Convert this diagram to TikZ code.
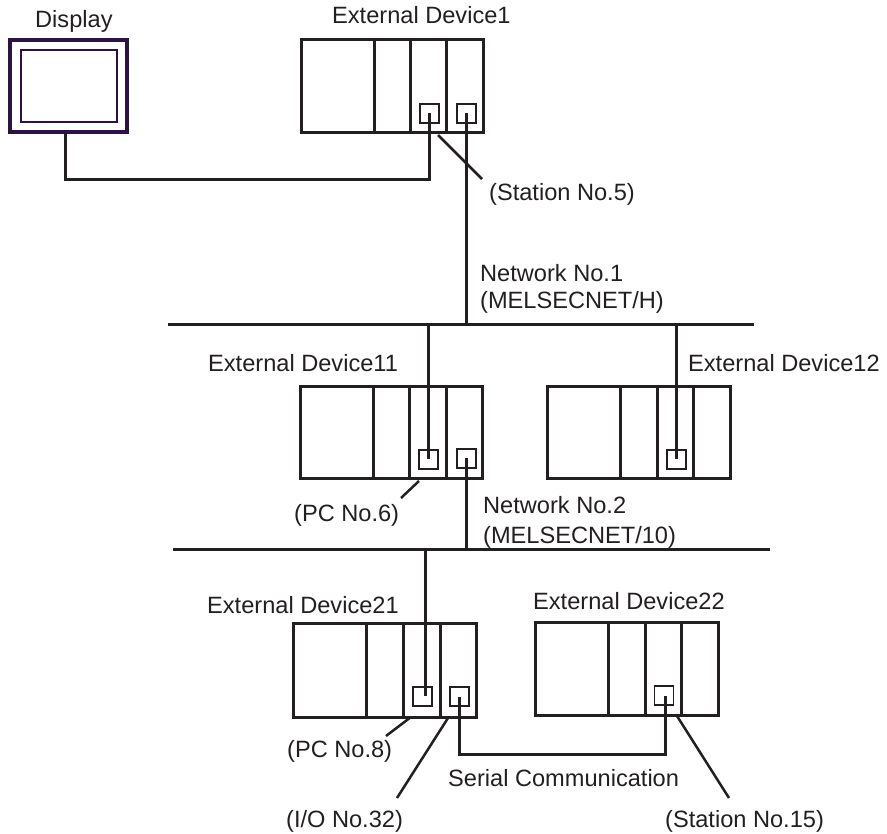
\documentclass[tikz,border=0pt]{standalone}
\usepackage{fontspec}
\setmainfont{Liberation Sans}
\definecolor{ink}{HTML}{231F20}
\definecolor{disp}{HTML}{2E1145}
\tikzset{
  x=1pt,y=-1pt,
  wire/.style={draw=ink,line width=2.5pt,line cap=butt,line join=miter},
  box/.style={draw=ink,line width=2.4pt,line join=miter},
  port/.style={draw=ink,line width=1.9pt,inner sep=0pt,minimum size=19pt},
  lbl/.style={font=\fontsize{23.6}{28}\selectfont,text=ink,inner sep=0pt,anchor=base west,align=left},
}
\newcommand{\plc}[7]{%
  \begin{scope}[shift={(-0.5,0.5)}]
  \draw[box] (#1,#2) rectangle (#3,#4);
  \draw[box] (#5,#2) -- (#5,#4);
  \draw[box] (#6,#2) -- (#6,#4);
  \draw[box] (#7,#2) -- (#7,#4);
  \end{scope}
}
\begin{document}
\begin{tikzpicture}
\useasboundingbox (0,0) rectangle (887,834);
% display
\draw[draw=disp,line width=3.6pt] (10,40) rectangle (127,132);
\draw[draw=disp,line width=2.8pt] (21,50) rectangle (117,122);
\coordinate (dispb) at (65.5,133);
\node[lbl] (tdisp) at (35,28) {Display};
% device 1
\plc{302}{39}{484}{132}{375}{411}{447}
\node[port] (d1a) at (429.5,113.5) {};
\node[port] (d1b) at (466.5,113.5) {};
\node[lbl] (td1) at (332,24) {External Device1};
\node[lbl] (ts5) at (489,201) {(Station No.5)};
\node[lbl] (tn1) at (480,282) {Network No.1};
\node[lbl] (tn1b) at (480,309) {(MELSECNET/H)};
% bus 1
\coordinate (b1l) at (168,324.5); \coordinate (b1r) at (754,324.5);
\draw[wire] (b1l) -- (b1r);
% device 11
\plc{301}{386}{483}{478}{374}{410}{447}
\node[port] (d11a) at (428.5,459.5) {};
\node[port] (d11b) at (466.5,458.5) {};
\node[lbl] (td11) at (208,372) {External Device11};
\node[lbl] (tp6) at (294,521) {(PC No.6)};
\node[lbl] (tn2) at (483,513) {Network No.2};
\node[lbl] (tn2b) at (483,543) {(MELSECNET/10)};
% device 12
\plc{548}{386}{731}{478}{621}{658}{694}
\node[port] (d12a) at (676.5,459.5) {};
\node[lbl] (td12) at (688,372) {External Device12};
% bus 2
\coordinate (b2l) at (173,549.5); \coordinate (b2r) at (770,549.5);
\draw[wire] (b2l) -- (b2r);
% device 21
\plc{294}{623}{477}{717}{367}{404}{441}
\node[port] (d21a) at (422.5,696.5) {};
\node[port] (d21b) at (459.5,696.5) {};
\node[lbl] (td21) at (207,613) {External Device21};
\node[lbl] (tp8) at (287,757) {(PC No.8)};
\node[lbl] (ti32) at (286,827) {(I/O No.32)};
% device 22
\plc{536}{622}{719}{715}{609}{646}{682}
\node[port] (d22a) at (664,695.5) {};
\node[lbl] (td22) at (533,609.5) {External Device22};
\node[lbl] (tser) at (448,786) {Serial Communication};
\node[lbl] (ts15) at (665,827) {(Station No.15)};
% wires
\draw[wire] (dispb) |- (429.5,179.5) -- (d1a.center);
\draw[wire] (d1b.center) -- (466.5,324.5);
\draw[wire] (428.5,324.5) -- (d11a.center);
\draw[wire] (d11b.center) -- (466.5,549.5);
\draw[wire] (676.5,324.5) -- (d12a.center);
\draw[wire] (425.5,549.5) -- (425.5,696);
\draw[wire] (d21b.center) |- (665.5,754.5) -- (665.5,696);
% leaders
\draw[wire] (438,135) -- (482,179);
\draw[wire] (419,481) -- (401,498);
\draw[wire] (411,717) -- (386,736);
\draw[wire] (448,718) -- (397,798);
\draw[wire] (677,716) -- (729,798);
\end{tikzpicture}
\end{document}
